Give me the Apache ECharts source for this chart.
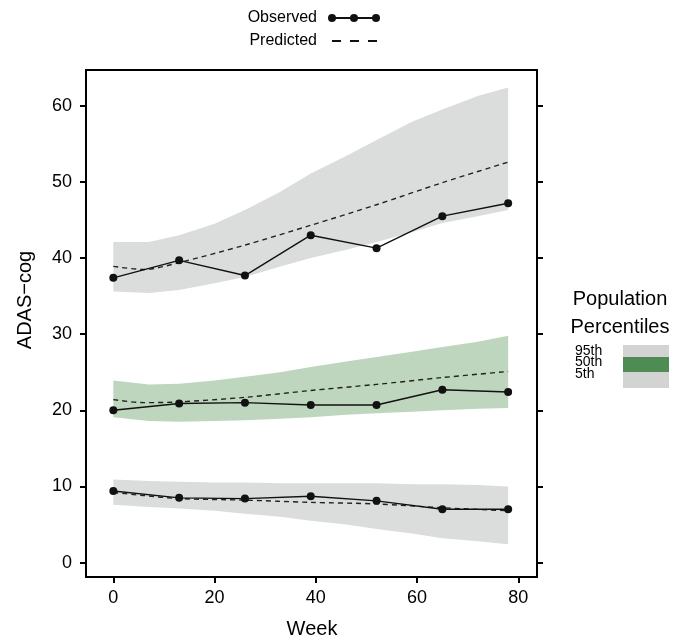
<!DOCTYPE html>
<html>
<head>
<meta charset="utf-8">
<script src="https://cdn.jsdelivr.net/npm/echarts@6/dist/echarts.min.js"></script>
<style>
  html, body { margin: 0; padding: 0; background: #fff; }
  #chart { width: 675px; height: 641px; }
</style>
</head>
<body>
<div id="chart"></div>
<script>
// observed visits
const weeks = [0, 13, 26, 39, 52, 65, 78]
const obsHigh = [37.4, 39.7, 37.7, 43.0, 41.3, 45.5, 47.2]
const obsMid = [20.0, 20.9, 21.0, 20.7, 20.7, 22.7, 22.4]
const obsLow = [9.4, 8.5, 8.4, 8.7, 8.1, 7.0, 7.0]

// model predictions
const predWeeks = [0, 6, 13, 26, 39, 52, 65, 78]
const predHigh = [38.9, 38.5, 39.4, 41.7, 44.3, 47.0, 49.9, 52.6]
const predMid = [21.4, 21.0, 21.1, 21.7, 22.6, 23.4, 24.3, 25.1]
const predLow = [9.2, 8.8, 8.4, 8.2, 7.9, 7.7, 7.2, 6.8]

// simulated percentile bands
const bandWeeks = [0, 7, 13, 20, 26, 33, 39, 46, 52, 59, 65, 72, 78]
const highUpper = [42.1, 42.1, 43.0, 44.5, 46.3, 48.7, 51.1, 53.4, 55.5, 57.9, 59.5, 61.3, 62.4]
const highLower = [35.6, 35.4, 35.8, 36.7, 37.5, 38.9, 40.0, 41.1, 42.1, 43.4, 44.6, 45.5, 46.3]
const midUpper = [23.9, 23.4, 23.5, 23.9, 24.4, 25.0, 25.7, 26.4, 27.0, 27.7, 28.3, 29.0, 29.8]
const midLower = [19.1, 18.6, 18.5, 18.6, 18.7, 18.9, 19.1, 19.4, 19.6, 19.8, 20.0, 20.2, 20.3]
const lowUpper = [10.9, 10.7, 10.6, 10.5, 10.5, 10.4, 10.4, 10.4, 10.4, 10.3, 10.3, 10.2, 10.0]
const lowLower = [7.6, 7.3, 7.1, 6.8, 6.4, 6.0, 5.5, 5.0, 4.4, 3.8, 3.2, 2.8, 2.4]

const xTicks = [0, 20, 40, 60, 80]
const yTicks = [0, 10, 20, 30, 40, 50, 60]

const FONT = 'Liberation Sans'
const GREY = '#dbdcdc'
const GREEN = '#bdd6bd'

const pairs = (xs, ys) => xs.map((x, i) => [x, ys[i]])

const band = (name, lower, upper, color) => ({
  name,
  type: 'custom',
  z: 1,
  silent: true,
  encode: { x: 0, y: [1, 2] },
  data: bandWeeks.map((w, i) => [w, lower[i], upper[i]]),
  renderItem: (params, api) => {
    if (params.dataIndex !== 0) return null
    const top = bandWeeks.map((w, i) => api.coord([w, upper[i]]))
    const bottom = bandWeeks.map((w, i) => api.coord([w, lower[i]])).reverse()
    return {
      type: 'polygon',
      shape: { points: top.concat(bottom) },
      style: { fill: color },
    }
  },
})

const observed = (data) => ({
  name: 'Observed',
  type: 'line',
  z: 3,
  data: pairs(weeks, data),
  symbol: 'circle',
  symbolSize: 8,
  itemStyle: { color: '#111' },
  lineStyle: { color: '#111', width: 1.4 },
})

const predicted = (data) => ({
  name: 'Predicted',
  type: 'line',
  z: 2,
  data: pairs(predWeeks, data),
  symbol: 'none',
  smooth: 0.3,
  lineStyle: { color: '#222', width: 1.4, type: [5, 4] },
})

const tick = { length: 6, lineStyle: { color: '#000', width: 2 } }

const chart = echarts.init(document.getElementById('chart'))

chart.setOption({
  animation: false,
  textStyle: { fontFamily: FONT },
  grid: {
    left: 86, right: 138, top: 70, bottom: 64,
    show: true, borderColor: '#000', borderWidth: 2,
  },
  xAxis: {
    type: 'value',
    min: -5.4,
    max: 83.7,
    axisLine: { show: false, onZero: false },
    splitLine: { show: false },
    axisTick: { ...tick, customValues: xTicks },
    axisLabel: { customValues: xTicks, color: '#000', fontSize: 18, margin: 12, fontFamily: FONT },
  },
  yAxis: [{
    type: 'value',
    min: -1.9,
    max: 64.7,
    axisLine: { show: false, onZero: false },
    splitLine: { show: false },
    axisTick: { ...tick, customValues: yTicks },
    axisLabel: { customValues: yTicks, color: '#000', fontSize: 18, margin: 14, fontFamily: FONT },
  }, {
    type: 'value',
    position: 'right',
    min: -1.9,
    max: 64.7,
    axisLine: { show: false, onZero: false },
    splitLine: { show: false },
    axisTick: { ...tick, customValues: yTicks },
    axisLabel: { show: false },
  }],
  series: [
    band('high band', highLower, highUpper, GREY),
    band('mid band', midLower, midUpper, GREEN),
    band('low band', lowLower, lowUpper, GREY),
    predicted(predHigh),
    predicted(predMid),
    predicted(predLow),
    observed(obsHigh),
    observed(obsMid),
    observed(obsLow),
  ],
  graphic: [
    // key at the top
    { type: 'text', x: 317, y: 18, style: { text: 'Observed', font: '16px ' + FONT, fill: '#000', align: 'right', verticalAlign: 'middle' } },
    { type: 'line', shape: { x1: 332, y1: 18, x2: 376, y2: 18 }, style: { stroke: '#111', lineWidth: 2 } },
    { type: 'circle', shape: { cx: 332, cy: 18, r: 4 }, style: { fill: '#111' } },
    { type: 'circle', shape: { cx: 354, cy: 18, r: 4 }, style: { fill: '#111' } },
    { type: 'circle', shape: { cx: 376, cy: 18, r: 4 }, style: { fill: '#111' } },
    { type: 'text', x: 317, y: 41, style: { text: 'Predicted', font: '16px ' + FONT, fill: '#000', align: 'right', verticalAlign: 'middle' } },
    { type: 'line', shape: { x1: 332, y1: 41, x2: 378, y2: 41 }, style: { stroke: '#111', lineWidth: 2, lineDash: [9, 9] } },
    // axis titles
    { type: 'text', x: 312, y: 629, style: { text: 'Week', font: '20px ' + FONT, fill: '#000', align: 'center', verticalAlign: 'middle' } },
    { type: 'text', x: 25, y: 300, rotation: Math.PI / 2, style: { text: 'ADAS\u2212cog', font: '20px ' + FONT, fill: '#000', align: 'center', verticalAlign: 'middle' } },
    // percentile key
    { type: 'text', x: 620, y: 299, style: { text: 'Population', font: '20px ' + FONT, fill: '#000', align: 'center', verticalAlign: 'middle' } },
    { type: 'text', x: 620, y: 327, style: { text: 'Percentiles', font: '20px ' + FONT, fill: '#000', align: 'center', verticalAlign: 'middle' } },
    { type: 'rect', shape: { x: 623, y: 345, width: 46, height: 43 }, style: { fill: '#d3d3d3' } },
    { type: 'rect', shape: { x: 623, y: 357, width: 46, height: 15 }, style: { fill: '#4f8c53' } },
    { type: 'text', x: 575, y: 351, style: { text: '95th', font: '14px ' + FONT, fill: '#000', verticalAlign: 'middle' } },
    { type: 'text', x: 575, y: 362, style: { text: '50th', font: '14px ' + FONT, fill: '#000', verticalAlign: 'middle' } },
    { type: 'text', x: 575, y: 374, style: { text: '5th', font: '14px ' + FONT, fill: '#000', verticalAlign: 'middle' } },
  ],
})
</script>
</body>
</html>
